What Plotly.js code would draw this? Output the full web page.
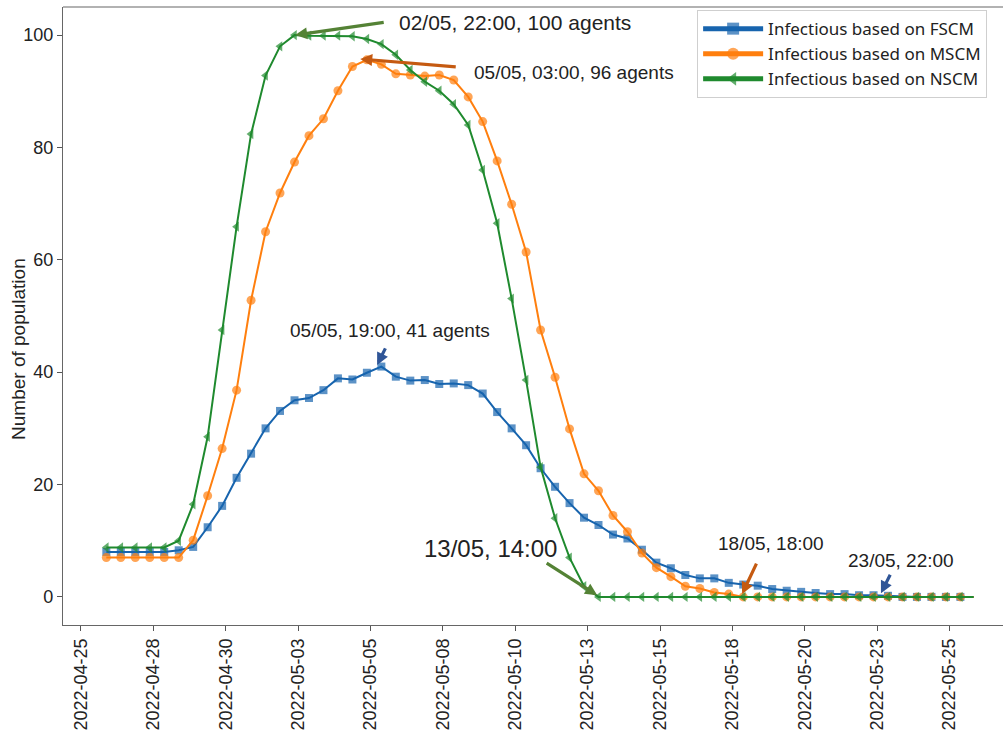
<!DOCTYPE html>
<html>
<head>
<meta charset="utf-8">
<script src="https://cdn.plot.ly/plotly-3.0.1.min.js"></script>
<style>html,body{margin:0;padding:0;background:#fff;}#chart{width:1006px;height:738px;}</style>
</head>
<body>
<div id="chart"></div>
<script>
// Time of first sample and sampling step (12 hours between markers)
const startTime = "2022-04-26T18:00:00";
const stepHours = 12;
const tailHours = 11; // line continues after last marker

const seriesNames = ["Infectious based on FSCM", "Infectious based on MSCM", "Infectious based on NSCM"];

const fscm = [8.0, 8.0, 8.0, 8.0, 8.0, 8.3, 8.9, 12.4, 16.2, 21.2,
  25.5, 30.0, 33.1, 35.0, 35.4, 36.8, 38.9, 38.7, 39.9, 41.0,
  39.2, 38.5, 38.6, 37.9, 38.0, 37.7, 36.2, 32.9, 30.0, 27.0,
  22.9, 19.6, 16.7, 14.1, 12.8, 11.1, 10.4, 8.4, 6.1, 5.1,
  3.9, 3.3, 3.3, 2.5, 2.2, 2.0, 1.4, 1.1, 0.9, 0.7,
  0.5, 0.5, 0.3, 0.3, 0.2, 0, 0, 0, 0, 0];

const mscm = [7.0, 7.0, 7.0, 7.0, 7.0, 7.0, 10.1, 18.0, 26.4, 36.8,
  52.8, 65.0, 71.9, 77.4, 82.1, 85.1, 90.1, 94.4, 95.6, 94.8,
  93.1, 92.9, 92.7, 92.9, 92.0, 89.0, 84.6, 77.6, 69.9, 61.4,
  47.5, 39.1, 29.9, 21.9, 18.9, 14.5, 11.6, 7.8, 5.2, 3.6,
  1.9, 1.5, 0.8, 0.5, 0, 0, 0, 0, 0, 0,
  0, 0, 0, 0, 0, 0, 0, 0, 0, 0];

const nscm = [8.8, 8.8, 8.8, 8.8, 8.8, 10.0, 16.5, 28.5, 47.5, 65.9,
  82.4, 92.8, 98.0, 100, 99.9, 99.9, 99.9, 99.8, 99.3, 98.4,
  96.5, 93.8, 91.7, 90.1, 87.7, 84.0, 76.0, 66.5, 53.1, 38.6,
  23.1, 14.0, 7.0, 1.9, 0, 0, 0, 0, 0, 0,
  0, 0, 0, 0, 0, 0, 0, 0, 0, 0,
  0, 0, 0, 0, 0, 0, 0, 0, 0, 0];

const tickDates = ["2022-04-25 21:00", "2022-04-28 09:00", "2022-04-30 21:00", "2022-05-03 09:00",
  "2022-05-05 21:00", "2022-05-08 09:00", "2022-05-10 21:00", "2022-05-13 09:00",
  "2022-05-15 21:00", "2022-05-18 09:00", "2022-05-20 21:00", "2022-05-23 09:00", "2022-05-25 21:00"];
const tickLabels = ["2022-04-25", "2022-04-28", "2022-04-30", "2022-05-03", "2022-05-05", "2022-05-08",
  "2022-05-10", "2022-05-13", "2022-05-15", "2022-05-18", "2022-05-20", "2022-05-23", "2022-05-25"];
const yTicks = [0, 20, 40, 60, 80, 100];
const yTitle = "Number of population";

// Annotation texts and where they point
const noteTexts = ["02/05, 22:00, 100 agents", "05/05, 03:00, 96 agents", "05/05, 19:00, 41 agents",
  "13/05, 14:00", "18/05, 18:00", "23/05, 22:00"];
const noteTextX = ["2022-05-06 19:08", "2022-05-09 09:15", "2022-05-03 00:50",
  "2022-05-07 15:50", "2022-05-17 19:35", "2022-05-22 07:20"];
const noteTextY = [102.3, 93.3, 47.5, 8.66, 9.56, 6.5];
const noteFontSize = [21, 19, 19, 24, 19, 19];
const arrowTipX = ["2022-05-03 06:35", "2022-05-05 12:30", "2022-05-06 02:30",
  "2022-05-13 16:55", "2022-05-18 17:05", "2022-05-23 12:10"];
const arrowTipY = [100.0, 95.75, 41.3, 0.3, 0.5, 0.66];
const arrowTailDX = [90, 97, 9, -52, 15, 10];
const arrowTailDY = [-13, 8, -18, -33, -32, -20];
const arrowColors = ["#548235", "#c55a11", "#2f5597", "#548235", "#c55a11", "#2f5597"];

function timeAxis(n) {
  const t0 = new Date(startTime + "Z").getTime();
  const xs = [];
  for (let i = 0; i < n; i++) xs.push(new Date(t0 + i * stepHours * 3600e3).toISOString().slice(0, 19));
  xs.push(new Date(t0 + ((n - 1) * stepHours + tailHours) * 3600e3).toISOString().slice(0, 19));
  return xs;
}

function makeTrace(name, vals, color, symbol, size) {
  const x = timeAxis(vals.length);
  const y = vals.concat([vals[vals.length - 1]]);
  const sizes = vals.map(() => size).concat([0]);
  return {
    type: "scatter", mode: "lines+markers", name: name, x: x, y: y,
    line: {color: color, width: 2},
    marker: {color: color, symbol: symbol, size: sizes, line: {width: 0}}
  };
}

const traces = [
  makeTrace(seriesNames[0], fscm, "#1764ae", "square", 8),
  makeTrace(seriesNames[1], mscm, "#ff7f0e", "circle", 9),
  makeTrace(seriesNames[2], nscm, "#1f8a2e", "triangle-left", 9)
];

const annotations = [];
for (let i = 0; i < noteTexts.length; i++) {
  annotations.push({
    x: arrowTipX[i], y: arrowTipY[i], xref: "x", yref: "y", text: "",
    showarrow: true, ax: arrowTailDX[i], ay: arrowTailDY[i], axref: "pixel", ayref: "pixel",
    arrowcolor: arrowColors[i], arrowwidth: 3.2, arrowhead: 2, arrowsize: 0.75, standoff: 0, startstandoff: 0
  });
  annotations.push({
    x: noteTextX[i], y: noteTextY[i], xref: "x", yref: "y", text: noteTexts[i],
    showarrow: false, xanchor: "left", yanchor: "middle",
    font: {family: "Liberation Sans, Arial, sans-serif", size: noteFontSize[i], color: "#222"}
  });
}
annotations.push({
  x: -0.0479, y: 0.4466, xref: "paper", yref: "paper", text: yTitle, textangle: -90,
  showarrow: false, xanchor: "center", yanchor: "middle",
  font: {family: "Liberation Sans, Arial, sans-serif", size: 19, color: "#222"}
});

const layout = {
  width: 1006, height: 738,
  margin: {l: 63, r: 3, t: 7, b: 113},
  paper_bgcolor: "#fff", plot_bgcolor: "#fff",
  font: {family: "Liberation Sans, Arial, sans-serif", color: "#222"},
  showlegend: true,
  legend: {
    x: 0.6746, y: 0.995, xanchor: "left", yanchor: "top",
    bgcolor: "#fff", bordercolor: "#cfcfcf", borderwidth: 1,
    itemsizing: "constant", itemwidth: 60, tracegroupgap: 0,
    font: {family: "Noto Sans, Open Sans, sans-serif", size: 17, color: "#222"}
  },
  xaxis: {
    type: "date", range: ["2022-04-25 06:05", "2022-05-27 17:20"],
    tickmode: "array", tickvals: tickDates, ticktext: tickLabels, tickangle: -90,
    ticks: "outside", ticklen: 5, tickcolor: "#555", tickfont: {size: 18, color: "#222"},
    showgrid: false, zeroline: false, showline: true, linecolor: "#666", linewidth: 1.2,
    mirror: false, automargin: false
  },
  yaxis: {
    range: [-5, 105], tickmode: "array", tickvals: yTicks,
    ticks: "outside", ticklen: 5, tickcolor: "#555", tickfont: {size: 18, color: "#222"},
    showgrid: false, zeroline: false, showline: true, linecolor: "#666", linewidth: 1.2,
    mirror: false, automargin: false
  },
  shapes: [{type: "line", xref: "paper", yref: "paper", x0: 0, x1: 1, y0: 1, y1: 1,
    line: {color: "#666", width: 1.2}}],
  annotations: annotations
};

Plotly.newPlot("chart", traces, layout, {displayModeBar: false, staticPlot: true});
</script>
</body>
</html>
